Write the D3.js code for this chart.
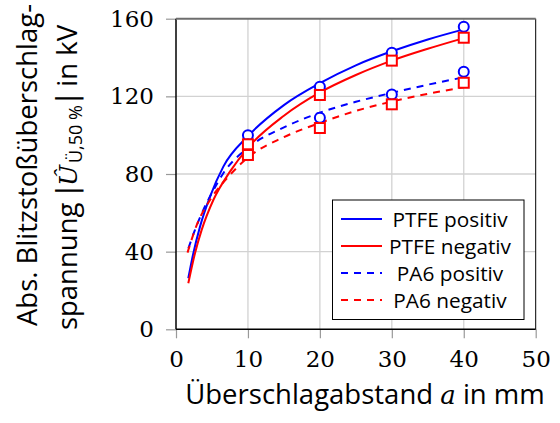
<!DOCTYPE html>
<html>
<head>
<meta charset="utf-8">
<script src="https://cdn.jsdelivr.net/npm/d3@7"></script>
<style>
  html, body { margin: 0; padding: 0; background: #fff; }
  svg { display: block; }
</style>
</head>
<body>
<svg id="chart" width="560" height="423"></svg>
<script>
// Axis ticks
const xTicks = [0, 10, 20, 30, 40, 50];
const yTicks = [0, 40, 80, 120, 160];

// Series names (legend order)
const seriesNames = ["PTFE positiv", "PTFE negativ", "PA6 positiv", "PA6 negativ"];

// Measured flashover voltages (kV) at the gap distances (mm)
const gapMm = [10, 20, 30, 40];
const ptfePosKV = [100, 125, 142.5, 155.9];
const ptfeNegKV = [95.3, 120.7, 138.4, 150.2];
const pa6PosKV = [95.3, 109, 121, 132.7];
const pa6NegKV = [89.8, 103.7, 115.9, 127];

// Fitted trend curves (mm, kV)
const ptfePosFitX = [1.71, 2.41, 3.34, 4.73, 6.58, 10, 15, 20, 25, 30, 35, 40];
const ptfePosFitY = [26.3, 39.2, 52.9, 68.3, 83.8, 99.5, 115.5, 126.8, 136, 143.2, 149.3, 154.5];
const ptfeNegFitX = [1.71, 2.64, 3.57, 5.19, 7.5, 10, 15, 20, 25, 30, 35, 40];
const ptfeNegFitY = [23.7, 39.2, 51.2, 66.6, 81.2, 93.5, 110, 122, 131, 138.4, 144.5, 150];
const pa6PosFitX = [1.72, 2.64, 3.8, 4.96, 6.58, 10, 15, 20, 25, 30, 35, 40];
const pa6PosFitY = [41.7, 51.2, 61.5, 70, 80.4, 93.5, 104, 111.6, 117.2, 121.8, 126, 129.8];
const pa6NegFitX = [1.6, 2.88, 4.73, 7.5, 10, 15, 20, 25, 30, 35, 40];
const pa6NegFitY = [39.5, 53.7, 66.6, 79.5, 88.5, 99, 106.3, 112.5, 117.3, 121.3, 124.7];

const BLUE = "#0000ff", RED = "#ff0000";
const SANS = "'Open Sans', 'Noto Sans', sans-serif";
const SERIF = "'DejaVu Serif', serif";

const series = [
  { name: seriesNames[0], color: BLUE, dash: null, marker: "circle", kv: ptfePosKV, fx: ptfePosFitX, fy: ptfePosFitY },
  { name: seriesNames[1], color: RED,  dash: null, marker: "square", kv: ptfeNegKV, fx: ptfeNegFitX, fy: ptfeNegFitY },
  { name: seriesNames[2], color: BLUE, dash: "7,6", marker: "circle", kv: pa6PosKV, fx: pa6PosFitX, fy: pa6PosFitY },
  { name: seriesNames[3], color: RED,  dash: "7,6", marker: "square", kv: pa6NegKV, fx: pa6NegFitX, fy: pa6NegFitY }
];

const plot = { left: 176, right: 535.7, top: 18.7, bottom: 329.3 };

const svg = d3.select("#chart");

const x = d3.scaleLinear().domain([0, 50]).range([plot.left, plot.right]);
const y = d3.scaleLinear().domain([0, 160]).range([plot.bottom, plot.top]);

// Grid
const grid = svg.append("g");
grid.selectAll("line.vg").data(xTicks.slice(1, -1)).join("line")
  .attr("x1", d => x(d)).attr("x2", d => x(d))
  .attr("y1", plot.top).attr("y2", plot.bottom)
  .attr("stroke", "#d2d2d2").attr("stroke-width", 1.3);
grid.selectAll("line.hg").data(yTicks.slice(1, -1)).join("line")
  .attr("x1", plot.left).attr("x2", plot.right)
  .attr("y1", d => y(d)).attr("y2", d => y(d))
  .attr("stroke", "#d2d2d2").attr("stroke-width", 1.3);

// Axes (ticks point outward, gray)
const xAxis = svg.append("g").attr("transform", `translate(0,${plot.bottom})`)
  .call(d3.axisBottom(x).tickValues(xTicks).tickSize(9).tickSizeOuter(0).tickPadding(12));
const yAxis = svg.append("g").attr("transform", `translate(${plot.left},0)`)
  .call(d3.axisLeft(y).tickValues(yTicks).tickSize(10).tickSizeOuter(0).tickPadding(12));
[xAxis, yAxis].forEach(a => {
  a.select(".domain").remove();
  a.selectAll(".tick line").attr("stroke", "#999").attr("stroke-width", 1.2);
  a.selectAll(".tick text").attr("fill", "#000")
    .style("font-family", SERIF).style("font-size", "23px");
});

// Trend curves
const line = d3.line().curve(d3.curveMonotoneX).x(d => x(d[0])).y(d => y(d[1]));
series.forEach(s => {
  svg.append("path")
    .datum(s.fx.map((v, i) => [v, s.fy[i]]))
    .attr("d", line)
    .attr("fill", "none")
    .attr("stroke", s.color)
    .attr("stroke-width", 2)
    .attr("stroke-dasharray", s.dash);
});

// Markers: circles first, squares on top
const circ = series.filter(s => s.marker === "circle");
const sq = series.filter(s => s.marker === "square");
circ.forEach(s => {
  svg.append("g").selectAll("circle").data(gapMm).join("circle")
    .attr("cx", d => x(d)).attr("cy", (d, i) => y(s.kv[i])).attr("r", 5)
    .attr("fill", "#fff").attr("stroke", s.color).attr("stroke-width", 2);
});
sq.forEach(s => {
  svg.append("g").selectAll("rect").data(gapMm).join("rect")
    .attr("x", d => x(d) - 5).attr("y", (d, i) => y(s.kv[i]) - 5)
    .attr("width", 10).attr("height", 10)
    .attr("fill", "#fff").attr("stroke", s.color).attr("stroke-width", 2);
});

// Frame
svg.append("line").attr("x1", plot.left).attr("x2", plot.left).attr("y1", plot.top).attr("y2", plot.bottom)
  .attr("stroke", "#000").attr("stroke-width", 1.5);
svg.append("line").attr("x1", plot.left).attr("x2", plot.right).attr("y1", plot.bottom).attr("y2", plot.bottom)
  .attr("stroke", "#000").attr("stroke-width", 1.5);
svg.append("line").attr("x1", plot.right).attr("x2", plot.right).attr("y1", plot.top).attr("y2", plot.bottom)
  .attr("stroke", "#000").attr("stroke-width", 1);
svg.append("line").attr("x1", plot.left).attr("x2", plot.right).attr("y1", plot.top).attr("y2", plot.top)
  .attr("stroke", "#6e6e6e").attr("stroke-width", 2);

// Legend
const lg = svg.append("g");
lg.append("rect").attr("x", 332.5).attr("y", 200).attr("width", 191.5).attr("height", 119.5)
  .attr("fill", "#fff").attr("stroke", "#000").attr("stroke-width", 1);
const rowY = d3.scalePoint().domain(seriesNames).range([219, 300]);
series.forEach(s => {
  const yy = rowY(s.name);
  lg.append("line").attr("x1", 341).attr("x2", 382).attr("y1", yy).attr("y2", yy)
    .attr("stroke", s.color).attr("stroke-width", 2).attr("stroke-dasharray", s.dash);
  lg.append("text").attr("x", 450).attr("y", yy + 7.5).attr("text-anchor", "middle")
    .style("font-family", SANS).style("font-size", "20.8px").attr("fill", "#000")
    .text(s.name);
});

// X axis title
const xt = svg.append("text").attr("x", 365).attr("y", 403.5).attr("text-anchor", "middle")
  .style("font-family", SANS).style("font-size", "27.5px").attr("fill", "#000");
xt.append("tspan").text("Überschlagabstand ");
xt.append("tspan").style("font-family", SERIF).style("font-style", "italic").style("font-size", "26px").text("a");
xt.append("tspan").text(" in mm");

// Y axis title (two lines)
svg.append("text").attr("transform", "translate(36.7,165) rotate(-90)").attr("text-anchor", "middle")
  .style("font-family", SANS).style("font-size", "27.5px").attr("fill", "#000")
  .text("Abs. Blitzstoßüberschlag-");
const yt = svg.append("text").attr("transform", "translate(77,177.5) rotate(-90)").attr("text-anchor", "middle")
  .style("font-family", SANS).style("font-size", "27.5px").attr("fill", "#000");
yt.append("tspan").text("spannung ");
yt.append("tspan").style("font-family", "'DejaVu Sans', sans-serif").text("|");
yt.append("tspan").style("font-family", SERIF).style("font-style", "italic").style("font-size", "25px").text("Û");
yt.append("tspan").attr("dy", 4.5).attr("dx", 2).style("font-size", "18px").text("Ü,50 %");
yt.append("tspan").attr("dy", -4.5).attr("dx", 2).style("font-family", "'DejaVu Sans', sans-serif").text("|");
yt.append("tspan").text(" in kV");
</script>
</body>
</html>
